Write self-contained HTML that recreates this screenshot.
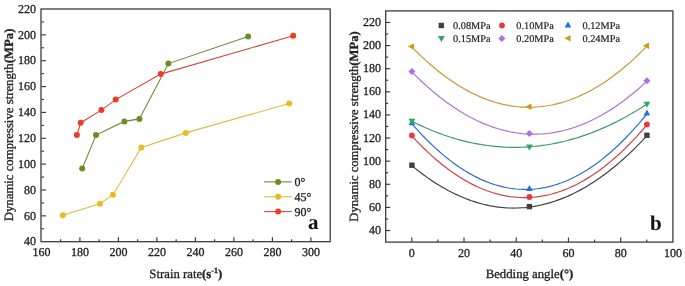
<!DOCTYPE html>
<html><head><meta charset="utf-8"><style>
html,body{margin:0;padding:0;background:#fff;width:685px;height:286px;overflow:hidden}
svg{display:block;will-change:transform}
text{font-family:"Liberation Serif",serif;fill:#222;stroke:#222;stroke-width:0.3px;text-rendering:geometricPrecision}
.tl{font-size:12px}
.at{font-size:12.75px}
.lg{font-size:10.3px;stroke-width:0.2px}
.b{font-weight:bold}
.big{font-size:21px;font-weight:bold;fill:#111;stroke:none}
</style></head><body>
<svg width="685" height="286" viewBox="0 0 685 286">
<rect x="41.0" y="9.0" width="289.20" height="232.70" fill="none" stroke="#3c3c3c" stroke-width="1.3"/>
<line x1="60.65" y1="241.7" x2="60.65" y2="239.2" stroke="#3c3c3c" stroke-width="1.2"/>
<line x1="79.90" y1="241.7" x2="79.90" y2="237.2" stroke="#3c3c3c" stroke-width="1.2"/>
<line x1="99.15" y1="241.7" x2="99.15" y2="239.2" stroke="#3c3c3c" stroke-width="1.2"/>
<line x1="118.40" y1="241.7" x2="118.40" y2="237.2" stroke="#3c3c3c" stroke-width="1.2"/>
<line x1="137.65" y1="241.7" x2="137.65" y2="239.2" stroke="#3c3c3c" stroke-width="1.2"/>
<line x1="156.90" y1="241.7" x2="156.90" y2="237.2" stroke="#3c3c3c" stroke-width="1.2"/>
<line x1="176.15" y1="241.7" x2="176.15" y2="239.2" stroke="#3c3c3c" stroke-width="1.2"/>
<line x1="195.40" y1="241.7" x2="195.40" y2="237.2" stroke="#3c3c3c" stroke-width="1.2"/>
<line x1="214.65" y1="241.7" x2="214.65" y2="239.2" stroke="#3c3c3c" stroke-width="1.2"/>
<line x1="233.90" y1="241.7" x2="233.90" y2="237.2" stroke="#3c3c3c" stroke-width="1.2"/>
<line x1="253.15" y1="241.7" x2="253.15" y2="239.2" stroke="#3c3c3c" stroke-width="1.2"/>
<line x1="272.40" y1="241.7" x2="272.40" y2="237.2" stroke="#3c3c3c" stroke-width="1.2"/>
<line x1="291.65" y1="241.7" x2="291.65" y2="239.2" stroke="#3c3c3c" stroke-width="1.2"/>
<line x1="310.90" y1="241.7" x2="310.90" y2="237.2" stroke="#3c3c3c" stroke-width="1.2"/>
<line x1="41.4" y1="228.77" x2="43.9" y2="228.77" stroke="#3c3c3c" stroke-width="1.2"/>
<line x1="41.4" y1="215.84" x2="45.9" y2="215.84" stroke="#3c3c3c" stroke-width="1.2"/>
<line x1="41.4" y1="202.92" x2="43.9" y2="202.92" stroke="#3c3c3c" stroke-width="1.2"/>
<line x1="41.4" y1="189.99" x2="45.9" y2="189.99" stroke="#3c3c3c" stroke-width="1.2"/>
<line x1="41.4" y1="177.06" x2="43.9" y2="177.06" stroke="#3c3c3c" stroke-width="1.2"/>
<line x1="41.4" y1="164.13" x2="45.9" y2="164.13" stroke="#3c3c3c" stroke-width="1.2"/>
<line x1="41.4" y1="151.21" x2="43.9" y2="151.21" stroke="#3c3c3c" stroke-width="1.2"/>
<line x1="41.4" y1="138.28" x2="45.9" y2="138.28" stroke="#3c3c3c" stroke-width="1.2"/>
<line x1="41.4" y1="125.35" x2="43.9" y2="125.35" stroke="#3c3c3c" stroke-width="1.2"/>
<line x1="41.4" y1="112.42" x2="45.9" y2="112.42" stroke="#3c3c3c" stroke-width="1.2"/>
<line x1="41.4" y1="99.49" x2="43.9" y2="99.49" stroke="#3c3c3c" stroke-width="1.2"/>
<line x1="41.4" y1="86.57" x2="45.9" y2="86.57" stroke="#3c3c3c" stroke-width="1.2"/>
<line x1="41.4" y1="73.64" x2="43.9" y2="73.64" stroke="#3c3c3c" stroke-width="1.2"/>
<line x1="41.4" y1="60.71" x2="45.9" y2="60.71" stroke="#3c3c3c" stroke-width="1.2"/>
<line x1="41.4" y1="47.78" x2="43.9" y2="47.78" stroke="#3c3c3c" stroke-width="1.2"/>
<line x1="41.4" y1="34.86" x2="45.9" y2="34.86" stroke="#3c3c3c" stroke-width="1.2"/>
<line x1="41.4" y1="21.93" x2="43.9" y2="21.93" stroke="#3c3c3c" stroke-width="1.2"/>
<text x="41.40" y="256.2" class="tl" text-anchor="middle">160</text>
<text x="79.90" y="256.2" class="tl" text-anchor="middle">180</text>
<text x="118.40" y="256.2" class="tl" text-anchor="middle">200</text>
<text x="156.90" y="256.2" class="tl" text-anchor="middle">220</text>
<text x="195.40" y="256.2" class="tl" text-anchor="middle">240</text>
<text x="233.90" y="256.2" class="tl" text-anchor="middle">260</text>
<text x="272.40" y="256.2" class="tl" text-anchor="middle">280</text>
<text x="310.90" y="256.2" class="tl" text-anchor="middle">300</text>
<text x="36" y="245.40" class="tl" text-anchor="end">40</text>
<text x="36" y="219.54" class="tl" text-anchor="end">60</text>
<text x="36" y="193.69" class="tl" text-anchor="end">80</text>
<text x="36" y="167.83" class="tl" text-anchor="end">100</text>
<text x="36" y="141.98" class="tl" text-anchor="end">120</text>
<text x="36" y="116.12" class="tl" text-anchor="end">140</text>
<text x="36" y="90.27" class="tl" text-anchor="end">160</text>
<text x="36" y="64.41" class="tl" text-anchor="end">180</text>
<text x="36" y="38.56" class="tl" text-anchor="end">200</text>
<text x="36" y="12.70" class="tl" text-anchor="end">220</text>
<polyline points="82.2,168.6 96.0,135.1 124.4,121.4 139.4,118.9 168.4,63.6 248.2,36.4" fill="none" stroke="#6e8936" stroke-width="1.1"/>
<circle cx="82.2" cy="168.6" r="3.0" fill="#6b8e23"/>
<circle cx="96.0" cy="135.1" r="3.0" fill="#6b8e23"/>
<circle cx="124.4" cy="121.4" r="3.0" fill="#6b8e23"/>
<circle cx="139.4" cy="118.9" r="3.0" fill="#6b8e23"/>
<circle cx="168.4" cy="63.6" r="3.0" fill="#6b8e23"/>
<circle cx="248.2" cy="36.4" r="3.0" fill="#6b8e23"/>
<polyline points="62.9,215.2 100,203.8 113,194.7 141.4,147.5 185.8,132.9 289.2,103.5" fill="none" stroke="#e0ba43" stroke-width="1.1"/>
<circle cx="62.9" cy="215.2" r="3.0" fill="#ebbb22"/>
<circle cx="100" cy="203.8" r="3.0" fill="#ebbb22"/>
<circle cx="113" cy="194.7" r="3.0" fill="#ebbb22"/>
<circle cx="141.4" cy="147.5" r="3.0" fill="#ebbb22"/>
<circle cx="185.8" cy="132.9" r="3.0" fill="#ebbb22"/>
<circle cx="289.2" cy="103.5" r="3.0" fill="#ebbb22"/>
<polyline points="76.9,135.1 80.7,122.7 101.4,110.1 115.7,99.6 160.7,74.1 293.2,35.7" fill="none" stroke="#d24635" stroke-width="1.1"/>
<circle cx="76.9" cy="135.1" r="3.0" fill="#ee3b25"/>
<circle cx="80.7" cy="122.7" r="3.0" fill="#ee3b25"/>
<circle cx="101.4" cy="110.1" r="3.0" fill="#ee3b25"/>
<circle cx="115.7" cy="99.6" r="3.0" fill="#ee3b25"/>
<circle cx="160.7" cy="74.1" r="3.0" fill="#ee3b25"/>
<circle cx="293.2" cy="35.7" r="3.0" fill="#ee3b25"/>
<line x1="264.1" y1="181.90" x2="291.7" y2="181.90" stroke="#6e8936" stroke-width="1.1"/>
<circle cx="278.1" cy="181.90" r="3.0" fill="#6b8e23"/>
<text x="294.6" y="186.00" class="tl">0°</text>
<line x1="264.1" y1="196.75" x2="291.7" y2="196.75" stroke="#e0ba43" stroke-width="1.1"/>
<circle cx="278.1" cy="196.75" r="3.0" fill="#ebbb22"/>
<text x="294.6" y="200.85" class="tl">45°</text>
<line x1="264.1" y1="211.60" x2="291.7" y2="211.60" stroke="#d24635" stroke-width="1.1"/>
<circle cx="278.1" cy="211.60" r="3.0" fill="#ee3b25"/>
<text x="294.6" y="215.70" class="tl">90°</text>
<text x="308" y="228.6" class="big">a</text>
<text x="185.8" y="278.2" class="at" text-anchor="middle">Strain rate<tspan class="b">(s</tspan><tspan class="b" font-size="8" dy="-5">-1</tspan><tspan class="b" dy="5">)</tspan></text>
<text transform="translate(12.8,124.9) rotate(-90)" class="at" text-anchor="middle">Dynamic compressive strength<tspan class="b">(MPa)</tspan></text>
<rect x="385.7" y="10.9" width="287.20" height="231.20" fill="none" stroke="#3c3c3c" stroke-width="1.3"/>
<line x1="411.80" y1="242.1" x2="411.80" y2="237.6" stroke="#3c3c3c" stroke-width="1.2"/>
<line x1="437.91" y1="242.1" x2="437.91" y2="239.6" stroke="#3c3c3c" stroke-width="1.2"/>
<line x1="464.02" y1="242.1" x2="464.02" y2="237.6" stroke="#3c3c3c" stroke-width="1.2"/>
<line x1="490.13" y1="242.1" x2="490.13" y2="239.6" stroke="#3c3c3c" stroke-width="1.2"/>
<line x1="516.24" y1="242.1" x2="516.24" y2="237.6" stroke="#3c3c3c" stroke-width="1.2"/>
<line x1="542.35" y1="242.1" x2="542.35" y2="239.6" stroke="#3c3c3c" stroke-width="1.2"/>
<line x1="568.46" y1="242.1" x2="568.46" y2="237.6" stroke="#3c3c3c" stroke-width="1.2"/>
<line x1="594.57" y1="242.1" x2="594.57" y2="239.6" stroke="#3c3c3c" stroke-width="1.2"/>
<line x1="620.68" y1="242.1" x2="620.68" y2="237.6" stroke="#3c3c3c" stroke-width="1.2"/>
<line x1="646.79" y1="242.1" x2="646.79" y2="239.6" stroke="#3c3c3c" stroke-width="1.2"/>
<line x1="385.7" y1="230.54" x2="390.2" y2="230.54" stroke="#3c3c3c" stroke-width="1.2"/>
<line x1="385.7" y1="218.98" x2="388.2" y2="218.98" stroke="#3c3c3c" stroke-width="1.2"/>
<line x1="385.7" y1="207.42" x2="390.2" y2="207.42" stroke="#3c3c3c" stroke-width="1.2"/>
<line x1="385.7" y1="195.86" x2="388.2" y2="195.86" stroke="#3c3c3c" stroke-width="1.2"/>
<line x1="385.7" y1="184.30" x2="390.2" y2="184.30" stroke="#3c3c3c" stroke-width="1.2"/>
<line x1="385.7" y1="172.74" x2="388.2" y2="172.74" stroke="#3c3c3c" stroke-width="1.2"/>
<line x1="385.7" y1="161.18" x2="390.2" y2="161.18" stroke="#3c3c3c" stroke-width="1.2"/>
<line x1="385.7" y1="149.62" x2="388.2" y2="149.62" stroke="#3c3c3c" stroke-width="1.2"/>
<line x1="385.7" y1="138.06" x2="390.2" y2="138.06" stroke="#3c3c3c" stroke-width="1.2"/>
<line x1="385.7" y1="126.50" x2="388.2" y2="126.50" stroke="#3c3c3c" stroke-width="1.2"/>
<line x1="385.7" y1="114.94" x2="390.2" y2="114.94" stroke="#3c3c3c" stroke-width="1.2"/>
<line x1="385.7" y1="103.38" x2="388.2" y2="103.38" stroke="#3c3c3c" stroke-width="1.2"/>
<line x1="385.7" y1="91.82" x2="390.2" y2="91.82" stroke="#3c3c3c" stroke-width="1.2"/>
<line x1="385.7" y1="80.26" x2="388.2" y2="80.26" stroke="#3c3c3c" stroke-width="1.2"/>
<line x1="385.7" y1="68.70" x2="390.2" y2="68.70" stroke="#3c3c3c" stroke-width="1.2"/>
<line x1="385.7" y1="57.14" x2="388.2" y2="57.14" stroke="#3c3c3c" stroke-width="1.2"/>
<line x1="385.7" y1="45.58" x2="390.2" y2="45.58" stroke="#3c3c3c" stroke-width="1.2"/>
<line x1="385.7" y1="34.02" x2="388.2" y2="34.02" stroke="#3c3c3c" stroke-width="1.2"/>
<line x1="385.7" y1="22.46" x2="390.2" y2="22.46" stroke="#3c3c3c" stroke-width="1.2"/>
<text x="411.80" y="256.6" class="tl" text-anchor="middle">0</text>
<text x="464.02" y="256.6" class="tl" text-anchor="middle">20</text>
<text x="516.24" y="256.6" class="tl" text-anchor="middle">40</text>
<text x="568.46" y="256.6" class="tl" text-anchor="middle">60</text>
<text x="620.68" y="256.6" class="tl" text-anchor="middle">80</text>
<text x="672.90" y="256.6" class="tl" text-anchor="middle">100</text>
<text x="381" y="234.04" class="tl" text-anchor="end">40</text>
<text x="381" y="210.92" class="tl" text-anchor="end">60</text>
<text x="381" y="187.80" class="tl" text-anchor="end">80</text>
<text x="381" y="164.68" class="tl" text-anchor="end">100</text>
<text x="381" y="141.56" class="tl" text-anchor="end">120</text>
<text x="381" y="118.44" class="tl" text-anchor="end">140</text>
<text x="381" y="95.32" class="tl" text-anchor="end">160</text>
<text x="381" y="72.20" class="tl" text-anchor="end">180</text>
<text x="381" y="49.08" class="tl" text-anchor="end">200</text>
<text x="381" y="25.96" class="tl" text-anchor="end">220</text>
<polyline points="411.90,165.65 414.87,168.09 417.85,170.45 420.82,172.75 423.80,174.97 426.77,177.12 429.75,179.20 432.72,181.20 435.70,183.14 438.67,185.00 441.65,186.79 444.62,188.50 447.60,190.15 450.57,191.72 453.55,193.22 456.52,194.64 459.49,196.00 462.47,197.28 465.44,198.49 468.42,199.63 471.39,200.70 474.37,201.69 477.34,202.61 480.32,203.46 483.29,204.24 486.27,204.94 489.24,205.58 492.22,206.14 495.19,206.63 498.17,207.04 501.14,207.39 504.12,207.66 507.09,207.86 510.06,207.98 513.04,208.04 516.01,208.02 518.99,207.93 521.96,207.77 524.94,207.54 527.91,207.23 530.89,206.85 533.86,206.40 536.84,205.88 539.81,205.28 542.79,204.62 545.76,203.88 548.74,203.06 551.71,202.18 554.68,201.22 557.66,200.19 560.63,199.09 563.61,197.92 566.58,196.68 569.56,195.36 572.53,193.97 575.51,192.51 578.48,190.97 581.46,189.37 584.43,187.69 587.41,185.94 590.38,184.11 593.36,182.22 596.33,180.25 599.31,178.21 602.28,176.10 605.25,173.91 608.23,171.66 611.20,169.33 614.18,166.93 617.15,164.45 620.13,161.91 623.10,159.29 626.08,156.60 629.05,153.84 632.03,151.01 635.00,148.10 637.98,145.12 640.95,142.07 643.93,138.95 646.90,135.75" fill="none" stroke="#404040" stroke-width="1.2"/>
<polyline points="411.90,135.95 414.87,139.16 417.85,142.29 420.82,145.33 423.80,148.28 426.77,151.15 429.75,153.93 432.72,156.63 435.70,159.24 438.67,161.76 441.65,164.20 444.62,166.55 447.60,168.81 450.57,171.00 453.55,173.09 456.52,175.10 459.49,177.02 462.47,178.86 465.44,180.61 468.42,182.27 471.39,183.85 474.37,185.34 477.34,186.75 480.32,188.07 483.29,189.30 486.27,190.45 489.24,191.51 492.22,192.49 495.19,193.38 498.17,194.19 501.14,194.91 504.12,195.54 507.09,196.09 510.06,196.55 513.04,196.92 516.01,197.21 518.99,197.42 521.96,197.53 524.94,197.56 527.91,197.51 530.89,197.37 533.86,197.14 536.84,196.83 539.81,196.43 542.79,195.95 545.76,195.38 548.74,194.72 551.71,193.98 554.68,193.15 557.66,192.24 560.63,191.24 563.61,190.15 566.58,188.98 569.56,187.72 572.53,186.38 575.51,184.95 578.48,183.43 581.46,181.83 584.43,180.14 587.41,178.37 590.38,176.51 593.36,174.56 596.33,172.53 599.31,170.42 602.28,168.21 605.25,165.92 608.23,163.55 611.20,161.09 614.18,158.54 617.15,155.91 620.13,153.19 623.10,150.38 626.08,147.49 629.05,144.52 632.03,141.45 635.00,138.30 637.98,135.07 640.95,131.75 643.93,128.34 646.90,124.85" fill="none" stroke="#cd4445" stroke-width="1.2"/>
<polyline points="411.90,123.65 414.87,127.06 417.85,130.37 420.82,133.59 423.80,136.73 426.77,139.77 429.75,142.72 432.72,145.59 435.70,148.36 438.67,151.04 441.65,153.63 444.62,156.13 447.60,158.54 450.57,160.86 453.55,163.09 456.52,165.23 459.49,167.28 462.47,169.23 465.44,171.10 468.42,172.88 471.39,174.56 474.37,176.16 477.34,177.66 480.32,179.08 483.29,180.40 486.27,181.64 489.24,182.78 492.22,183.83 495.19,184.79 498.17,185.66 501.14,186.44 504.12,187.14 507.09,187.74 510.06,188.24 513.04,188.66 516.01,188.99 518.99,189.23 521.96,189.38 524.94,189.43 527.91,189.40 530.89,189.28 533.86,189.06 536.84,188.76 539.81,188.36 542.79,187.88 545.76,187.30 548.74,186.63 551.71,185.87 554.68,185.03 557.66,184.09 560.63,183.06 563.61,181.94 566.58,180.73 569.56,179.43 572.53,178.04 575.51,176.56 578.48,174.98 581.46,173.32 584.43,171.57 587.41,169.73 590.38,167.79 593.36,165.77 596.33,163.65 599.31,161.45 602.28,159.15 605.25,156.76 608.23,154.29 611.20,151.72 614.18,149.06 617.15,146.31 620.13,143.47 623.10,140.54 626.08,137.52 629.05,134.41 632.03,131.21 635.00,127.92 637.98,124.54 640.95,121.07 643.93,117.50 646.90,113.85" fill="none" stroke="#2e6dc5" stroke-width="1.2"/>
<polyline points="411.90,121.25 414.87,122.74 417.85,124.19 420.82,125.59 423.80,126.95 426.77,128.27 429.75,129.54 432.72,130.77 435.70,131.95 438.67,133.09 441.65,134.19 444.62,135.24 447.60,136.25 450.57,137.22 453.55,138.14 456.52,139.02 459.49,139.85 462.47,140.64 465.44,141.39 468.42,142.09 471.39,142.75 474.37,143.36 477.34,143.93 480.32,144.46 483.29,144.95 486.27,145.39 489.24,145.78 492.22,146.14 495.19,146.44 498.17,146.71 501.14,146.93 504.12,147.11 507.09,147.24 510.06,147.33 513.04,147.38 516.01,147.38 518.99,147.34 521.96,147.25 524.94,147.13 527.91,146.95 530.89,146.74 533.86,146.48 536.84,146.17 539.81,145.82 542.79,145.43 545.76,145.00 548.74,144.52 551.71,144.00 554.68,143.43 557.66,142.82 560.63,142.16 563.61,141.47 566.58,140.72 569.56,139.94 572.53,139.11 575.51,138.24 578.48,137.32 581.46,136.36 584.43,135.35 587.41,134.31 590.38,133.21 593.36,132.08 596.33,130.90 599.31,129.68 602.28,128.41 605.25,127.10 608.23,125.74 611.20,124.35 614.18,122.90 617.15,121.42 620.13,119.89 623.10,118.31 626.08,116.70 629.05,115.04 632.03,113.33 635.00,111.58 637.98,109.79 640.95,107.95 643.93,106.07 646.90,104.15" fill="none" stroke="#3f9e6b" stroke-width="1.2"/>
<polyline points="411.90,71.95 414.87,74.94 417.85,77.86 420.82,80.70 423.80,83.47 426.77,86.17 429.75,88.79 432.72,91.34 435.70,93.81 438.67,96.22 441.65,98.54 444.62,100.80 447.60,102.98 450.57,105.08 453.55,107.12 456.52,109.08 459.49,110.96 462.47,112.77 465.44,114.51 468.42,116.18 471.39,117.77 474.37,119.28 477.34,120.73 480.32,122.10 483.29,123.39 486.27,124.61 489.24,125.76 492.22,126.84 495.19,127.84 498.17,128.76 501.14,129.62 504.12,130.40 507.09,131.10 510.06,131.74 513.04,132.29 516.01,132.78 518.99,133.19 521.96,133.53 524.94,133.79 527.91,133.98 530.89,134.10 533.86,134.14 536.84,134.11 539.81,134.01 542.79,133.83 545.76,133.58 548.74,133.25 551.71,132.85 554.68,132.38 557.66,131.83 560.63,131.21 563.61,130.52 566.58,129.75 569.56,128.91 572.53,127.99 575.51,127.00 578.48,125.94 581.46,124.80 584.43,123.59 587.41,122.31 590.38,120.95 593.36,119.52 596.33,118.01 599.31,116.43 602.28,114.78 605.25,113.06 608.23,111.26 611.20,109.38 614.18,107.44 617.15,105.41 620.13,103.32 623.10,101.15 626.08,98.91 629.05,96.59 632.03,94.20 635.00,91.74 637.98,89.20 640.95,86.59 643.93,83.91 646.90,81.15" fill="none" stroke="#a975ce" stroke-width="1.2"/>
<polyline points="411.90,47.05 414.87,50.07 417.85,53.01 420.82,55.88 423.80,58.67 426.77,61.38 429.75,64.01 432.72,66.56 435.70,69.04 438.67,71.44 441.65,73.76 444.62,76.00 447.60,78.17 450.57,80.25 453.55,82.26 456.52,84.20 459.49,86.05 462.47,87.83 465.44,89.53 468.42,91.15 471.39,92.69 474.37,94.16 477.34,95.54 480.32,96.86 483.29,98.09 486.27,99.24 489.24,100.32 492.22,101.32 495.19,102.24 498.17,103.08 501.14,103.85 504.12,104.54 507.09,105.15 510.06,105.68 513.04,106.14 516.01,106.51 518.99,106.81 521.96,107.04 524.94,107.18 527.91,107.25 530.89,107.23 533.86,107.15 536.84,106.98 539.81,106.73 542.79,106.41 545.76,106.01 548.74,105.53 551.71,104.98 554.68,104.34 557.66,103.63 560.63,102.84 563.61,101.98 566.58,101.03 569.56,100.01 572.53,98.91 575.51,97.73 578.48,96.48 581.46,95.15 584.43,93.74 587.41,92.25 590.38,90.68 593.36,89.04 596.33,87.31 599.31,85.52 602.28,83.64 605.25,81.68 608.23,79.65 611.20,77.54 614.18,75.35 617.15,73.09 620.13,70.74 623.10,68.32 626.08,65.82 629.05,63.24 632.03,60.59 635.00,57.86 637.98,55.05 640.95,52.16 643.93,49.19 646.90,46.15" fill="none" stroke="#c49a30" stroke-width="1.2"/>
<rect x="409.20" y="162.50" width="5.4" height="5.4" fill="#404040"/>
<rect x="526.70" y="203.90" width="5.4" height="5.4" fill="#404040"/>
<rect x="644.20" y="132.60" width="5.4" height="5.4" fill="#404040"/>
<circle cx="411.90" cy="135.50" r="2.9" fill="#e8383a"/>
<circle cx="529.40" cy="197.00" r="2.9" fill="#e8383a"/>
<circle cx="646.90" cy="124.40" r="2.9" fill="#e8383a"/>
<polygon points="408.60,125.20 415.20,125.20 411.90,119.20" fill="#1f6fe0"/>
<polygon points="526.10,190.90 532.70,190.90 529.40,184.90" fill="#1f6fe0"/>
<polygon points="643.60,115.40 650.20,115.40 646.90,109.40" fill="#1f6fe0"/>
<polygon points="408.45,118.80 415.35,118.80 411.90,124.80" fill="#2ea866"/>
<polygon points="525.95,144.40 532.85,144.40 529.40,150.40" fill="#2ea866"/>
<polygon points="643.45,101.70 650.35,101.70 646.90,107.70" fill="#2ea866"/>
<polygon points="411.90,68.00 415.40,71.50 411.90,75.00 408.40,71.50" fill="#b06ee0"/>
<polygon points="529.40,130.10 532.90,133.60 529.40,137.10 525.90,133.60" fill="#b06ee0"/>
<polygon points="646.90,77.20 650.40,80.70 646.90,84.20 643.40,80.70" fill="#b06ee0"/>
<polygon points="407.77,46.60 413.97,43.40 413.97,49.80" fill="#d09a12"/>
<polygon points="525.27,106.80 531.47,103.60 531.47,110.00" fill="#d09a12"/>
<polygon points="642.77,45.70 648.97,42.50 648.97,48.90" fill="#d09a12"/>
<rect x="438.60" y="22.80" width="5.4" height="5.4" fill="#404040"/>
<text x="453.1" y="28.90" class="lg">0.08MPa</text>
<circle cx="502.00" cy="25.50" r="2.9" fill="#e8383a"/>
<text x="516.3" y="28.90" class="lg">0.10MPa</text>
<polygon points="564.70,27.60 571.30,27.60 568.00,21.60" fill="#1f6fe0"/>
<text x="582.5" y="28.90" class="lg">0.12MPa</text>
<polygon points="437.95,36.10 444.85,36.10 441.40,42.10" fill="#2ea866"/>
<text x="453.1" y="41.60" class="lg">0.15MPa</text>
<polygon points="501.90,34.90 505.40,38.40 501.90,41.90 498.40,38.40" fill="#b06ee0"/>
<text x="516.3" y="41.60" class="lg">0.20MPa</text>
<polygon points="564.37,38.20 570.57,35.00 570.57,41.40" fill="#d09a12"/>
<text x="582.5" y="41.60" class="lg">0.24MPa</text>
<text x="650" y="229.6" class="big">b</text>
<text x="529.5" y="277.7" class="at" text-anchor="middle">Bedding angle<tspan class="b">(°)</tspan></text>
<text transform="translate(357.6,126.5) rotate(-90)" class="at" font-size="12.6" style="font-size:12.6px" text-anchor="middle">Dynamic compressive strength<tspan class="b">(MPa)</tspan></text>
</svg></body></html>
